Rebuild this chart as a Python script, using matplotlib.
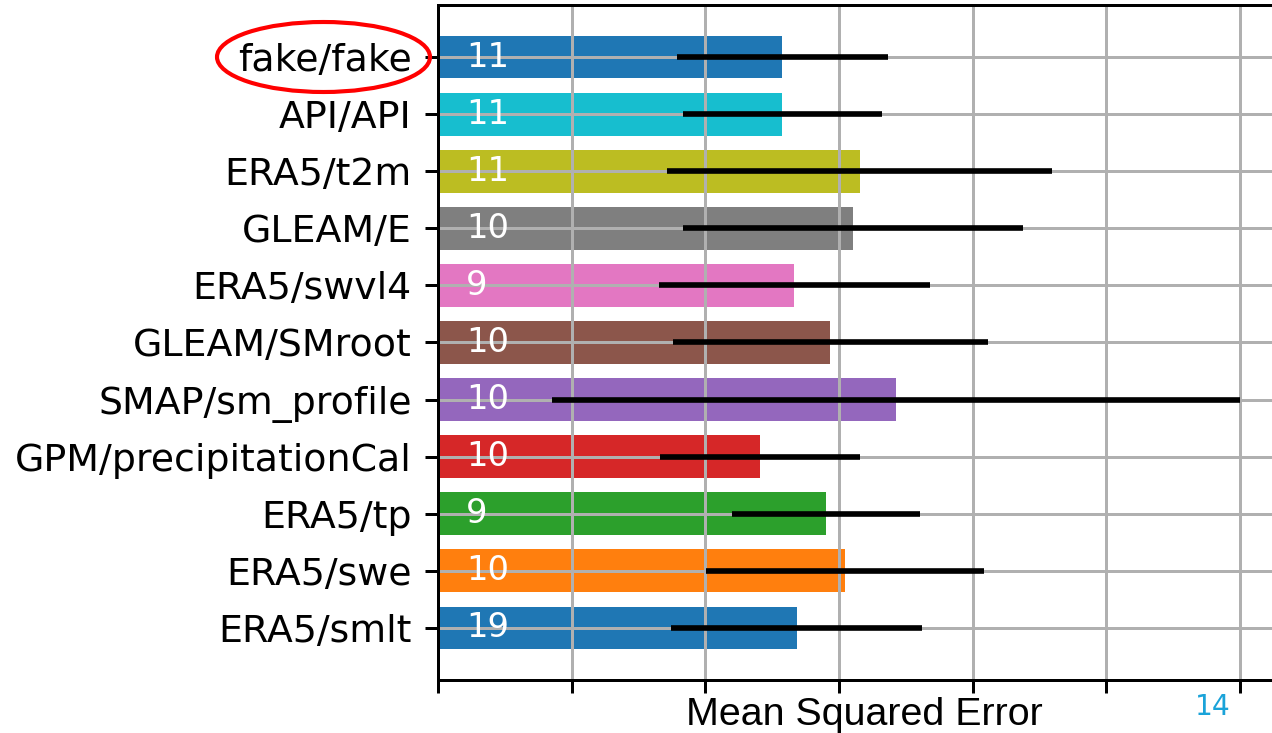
import numpy as np
import matplotlib.pyplot as plt
from matplotlib.patches import Ellipse

# Data (bottom to top)
labels = ['ERA5/smlt', 'ERA5/swe', 'ERA5/tp', 'GPM/precipitationCal', 'SMAP/sm_profile',
          'GLEAM/SMroot', 'ERA5/swvl4', 'GLEAM/E', 'ERA5/t2m', 'API/API', 'fake/fake']
mse = [5.37, 6.09, 5.81, 4.82, 6.85, 5.87, 5.33, 6.21, 6.31, 5.15, 5.15]
mse_err = [1.88, 2.08, 1.41, 1.50, 5.15, 2.36, 2.03, 2.55, 2.88, 1.49, 1.58]
counts = [19, 10, 9, 10, 10, 10, 9, 10, 11, 11, 11]
colors = ['tab:blue', 'tab:orange', 'tab:green', 'tab:red', 'tab:purple', 'tab:brown',
          'tab:pink', 'tab:gray', 'tab:olive', 'tab:cyan', 'tab:blue']

dpi = 270
fig = plt.figure(figsize=(1272 / dpi, 733 / dpi), dpi=dpi)
ax = fig.add_axes([438 / 1272, 53 / 733, 852 / 1272, 675 / 733])

y = np.arange(len(labels))
ax.barh(y, mse, height=0.75, color=colors)
ax.errorbar(mse, y, xerr=mse_err, fmt='none', ecolor='black', elinewidth=1.5, capsize=0)
for yi, n in zip(y, counts):
    ax.text(0.42, yi, str(n), color='white', fontsize=9, va='center', ha='left')

ax.set_yticks(y)
ax.set_yticklabels(labels, fontsize=10.1)
ax.set_xlim(0, 12.75)
ax.set_ylim(-0.9125, 10.9125)
ax.set_xticks(np.arange(0, 13, 2))
ax.set_xticklabels([])
ax.grid(True)
ax.spines['right'].set_visible(False)
ax.set_xlabel('Mean Squared Error', fontsize=10.5, family='Liberation Sans', labelpad=-2.5)

# red ellipse around the top label
fig.patches.append(Ellipse((323.5 / 1272, 1 - 57 / 733), 213 / 1272, 70 / 733,
                           transform=fig.transFigure, fill=False, edgecolor='red', linewidth=1.1))
fig.text(1213 / 1272, 1 - 707 / 733, '14', color='#1aa3d9', fontsize=7.5, ha='center', va='center')

plt.savefig('out.png', dpi=dpi)
